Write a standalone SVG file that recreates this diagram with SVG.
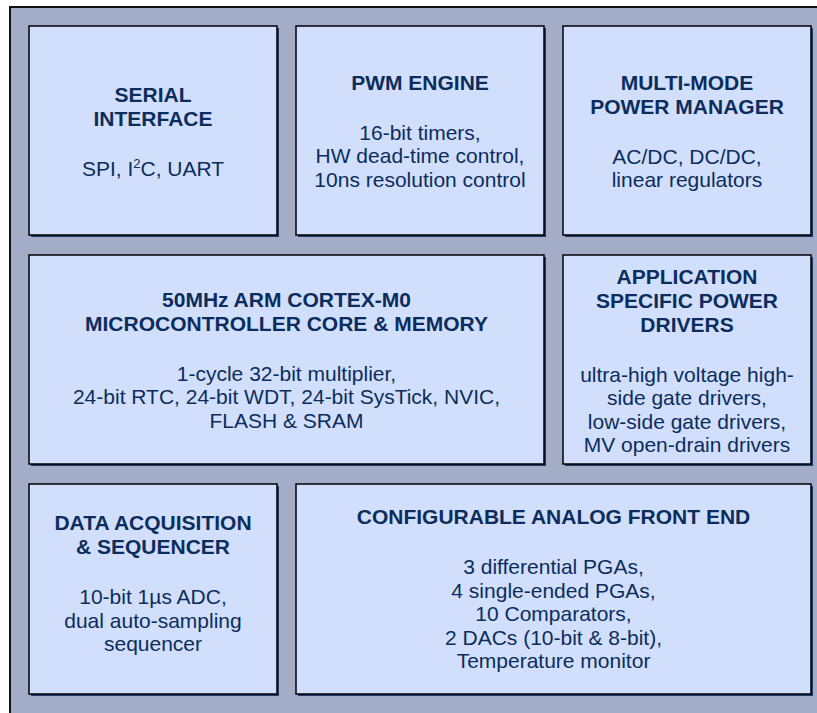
<svg xmlns="http://www.w3.org/2000/svg" width="817" height="713" viewBox="0 0 817 713">
<style>
.frame{fill:#a3adc8;stroke:#111;stroke-width:2}
.shadow{fill:#1d3c6c}
.box{fill:#d1dffc;stroke:#000;stroke-width:1.5}
text{font-family:"Liberation Sans",Arial,sans-serif;font-size:21px;fill:#0c2d5c;text-anchor:middle}
.t{font-weight:bold}
</style>
<rect x="0" y="0" width="817" height="713" fill="#ffffff"/>
<rect class="frame" x="10" y="7" width="830" height="730"/>
<g id="serial-interface">
<rect class="shadow" x="31" y="28" width="248" height="209"/>
<rect class="box" x="29" y="26" width="248" height="209"/>
<text class="t" x="153" y="101.5">SERIAL</text>
<text class="t" x="153" y="125.5">INTERFACE</text>
<text x="153" y="175.5">SPI, I<tspan dy="-8" font-size="13">2</tspan><tspan dy="8">C, UART</tspan></text>
</g>
<g id="pwm-engine">
<rect class="shadow" x="298" y="28" width="248" height="209"/>
<rect class="box" x="296" y="26" width="248" height="209"/>
<text class="t" x="420" y="89.5">PWM ENGINE</text>
<text x="420" y="139.5">16-bit timers,</text>
<text x="420" y="163">HW dead-time control,</text>
<text x="420" y="186.5">10ns resolution control</text>
</g>
<g id="power-manager">
<rect class="shadow" x="565" y="28" width="248" height="209"/>
<rect class="box" x="563" y="26" width="248" height="209"/>
<text class="t" x="687" y="89.5">MULTI-MODE</text>
<text class="t" x="687" y="113.5">POWER MANAGER</text>
<text x="687" y="163.5">AC/DC, DC/DC,</text>
<text x="687" y="187">linear regulators</text>
</g>
<g id="mcu-core">
<rect class="shadow" x="31" y="257" width="515" height="209"/>
<rect class="box" x="29" y="255" width="515" height="209"/>
<text class="t" x="286.5" y="306.5">50MHz ARM CORTEX-M0</text>
<text class="t" x="286.5" y="330.5">MICROCONTROLLER CORE &amp; MEMORY</text>
<text x="286.5" y="380.5">1-cycle 32-bit multiplier,</text>
<text x="286.5" y="404">24-bit RTC, 24-bit WDT, 24-bit SysTick, NVIC,</text>
<text x="286.5" y="427.5">FLASH &amp; SRAM</text>
</g>
<g id="power-drivers">
<rect class="shadow" x="565" y="257" width="248" height="209"/>
<rect class="box" x="563" y="255" width="248" height="209"/>
<text class="t" x="687" y="283.5">APPLICATION</text>
<text class="t" x="687" y="307.5">SPECIFIC POWER</text>
<text class="t" x="687" y="331.5">DRIVERS</text>
<text x="687" y="381.5">ultra-high voltage high-</text>
<text x="687" y="405">side gate drivers,</text>
<text x="687" y="428.5">low-side gate drivers,</text>
<text x="687" y="452">MV open-drain drivers</text>
</g>
<g id="data-acquisition">
<rect class="shadow" x="31" y="486" width="248" height="210"/>
<rect class="box" x="29" y="484" width="248" height="210"/>
<text class="t" x="153" y="530">DATA ACQUISITION</text>
<text class="t" x="153" y="554">&amp; SEQUENCER</text>
<text x="153" y="604">10-bit 1µs ADC,</text>
<text x="153" y="627.5">dual auto-sampling</text>
<text x="153" y="651">sequencer</text>
</g>
<g id="analog-front-end">
<rect class="shadow" x="298" y="486" width="515" height="210"/>
<rect class="box" x="296" y="484" width="515" height="210"/>
<text class="t" x="553.5" y="524">CONFIGURABLE ANALOG FRONT END</text>
<text x="553.5" y="574">3 differential PGAs,</text>
<text x="553.5" y="597.5">4 single-ended PGAs,</text>
<text x="553.5" y="621">10 Comparators,</text>
<text x="553.5" y="644.5">2 DACs (10-bit &amp; 8-bit),</text>
<text x="553.5" y="668">Temperature monitor</text>
</g>
<g id="connectors"/>
</svg>
